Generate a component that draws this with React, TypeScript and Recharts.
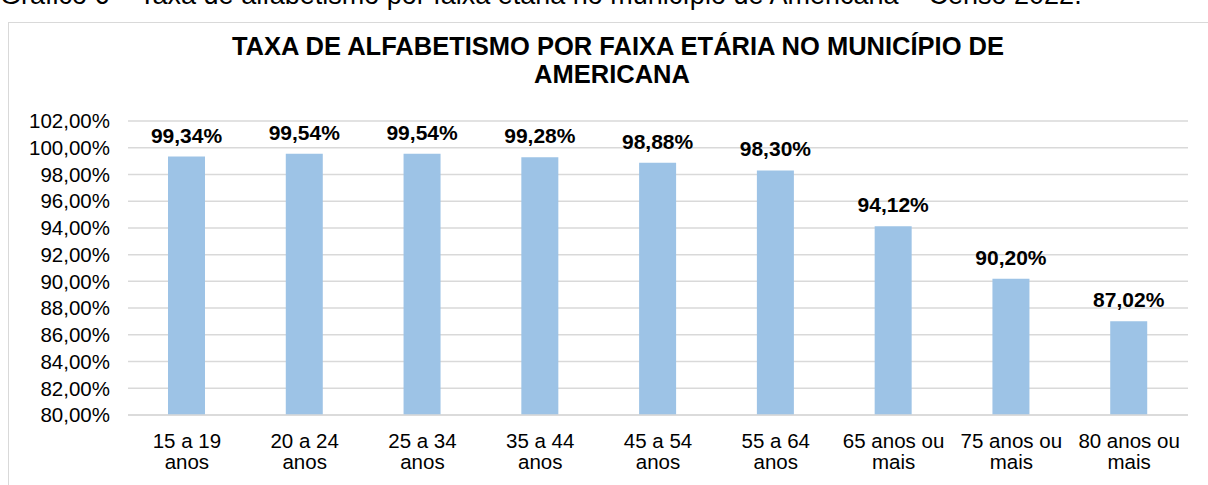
import React from "react";
import { BarChart, Bar, XAxis, YAxis, CartesianGrid, LabelList } from "recharts";

const faixas = [
  "15 a 19\nanos",
  "20 a 24\nanos",
  "25 a 34\nanos",
  "35 a 44\nanos",
  "45 a 54\nanos",
  "55 a 64\nanos",
  "65 anos ou\nmais",
  "75 anos ou\nmais",
  "80 anos ou\nmais",
];

const taxas = [99.34, 99.54, 99.54, 99.28, 98.88, 98.3, 94.12, 90.2, 87.02];

const yTicks = [80, 82, 84, 86, 88, 90, 92, 94, 96, 98, 100, 102];

const caption =
  "Gráfico 6 – Taxa de alfabetismo por faixa etária no município de Americana – Censo 2022.";
const titleLines = ["TAXA DE ALFABETISMO POR FAIXA ETÁRIA NO MUNICÍPIO DE", "AMERICANA"];

const FONT = '"Liberation Sans", Arial, sans-serif';

const fmtPct = (v: number) => `${Number(v).toFixed(2).replace(".", ",")}%`;

const chartData = faixas.map((faixa, i) => ({ faixa, taxa: taxas[i] }));

const FaixaTick = (props: any) => {
  const { x, y, payload } = props;
  const lines = String(payload.value).split("\n");
  return (
    <text x={x} y={y} textAnchor="middle" fill="#000" fontSize={20.5} fontFamily={FONT}>
      {lines.map((l, i) => (
        <tspan key={i} x={x} dy={i === 0 ? 25 : 21}>
          {l}
        </tspan>
      ))}
    </text>
  );
};

export default function App() {
  return (
    <div
      style={{
        position: "absolute",
        left: 0,
        top: 0,
        width: 1208,
        height: 485,
        overflow: "hidden",
        background: "#fff",
        fontFamily: FONT,
      }}
    >
      <div
        style={{
          position: "absolute",
          left: 8,
          top: 22,
          width: 1230,
          height: 500,
          border: "1px solid #d9d9d9",
        }}
      />
      <svg width={1208} height={100} style={{ position: "absolute", left: 0, top: 0 }}>
        <text x={0} y={4} fontSize={27} fontFamily={FONT} fill="#000">
          {caption}
        </text>
        <text x={618} y={55} textAnchor="middle" fontSize={25.5} fontWeight="bold" fontFamily={FONT} fill="#000">
          {titleLines[0]}
        </text>
        <text x={612} y={83} textAnchor="middle" fontSize={25.5} fontWeight="bold" fontFamily={FONT} fill="#000">
          {titleLines[1]}
        </text>
      </svg>
      <div style={{ position: "absolute", left: 0, top: 0 }}>
        <BarChart
          width={1208}
          height={485}
          data={chartData}
          margin={{ top: 121, right: 20, bottom: 0, left: 0 }}
          barCategoryGap="34%"
        >
          <CartesianGrid vertical={false} stroke="#d9d9d9" strokeWidth={1.5} />
          <XAxis
            dataKey="faixa"
            interval={0}
            height={70}
            tickLine={false}
            axisLine={{ stroke: "#d9d9d9", strokeWidth: 1.5 }}
            tick={<FaixaTick />}
          />
          <YAxis
            domain={[80, 102]}
            ticks={yTicks}
            interval={0}
            width={128}
            tickLine={false}
            axisLine={false}
            tickMargin={12}
            tickFormatter={fmtPct}
            tick={{ fill: "#000", fontSize: 20.5, fontFamily: FONT }}
          />
          <Bar dataKey="taxa" fill="#9dc3e6" barSize={37} isAnimationActive={false}>
            <LabelList
              dataKey="taxa"
              position="top"
              offset={14}
              formatter={(v: any) => fmtPct(v)}
              style={{ fontWeight: "bold", fontSize: 21, fill: "#000", fontFamily: FONT }}
            />
          </Bar>
        </BarChart>
      </div>
    </div>
  );
}
